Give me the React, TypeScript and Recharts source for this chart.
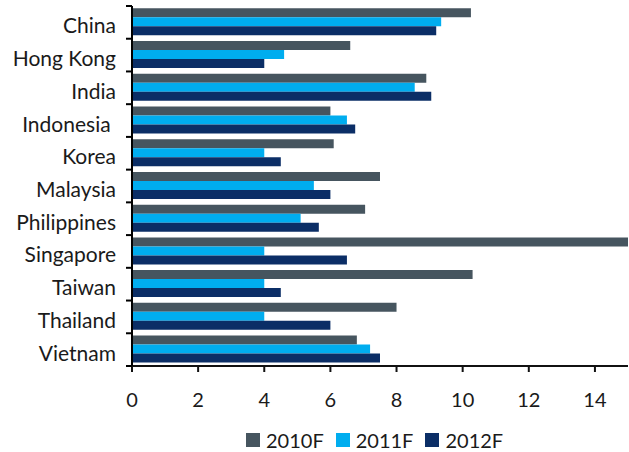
import { Bar, BarChart, Legend, XAxis, YAxis } from "recharts";

// Country groups, top to bottom
const countries = [
  "China",
  "Hong Kong",
  "India",
  "Indonesia ",
  "Korea",
  "Malaysia",
  "Philippines",
  "Singapore",
  "Taiwan",
  "Thailand",
  "Vietnam",
];

const values2010F = [10.25, 6.6, 8.9, 6.0, 6.1, 7.5, 7.05, 15.0, 10.3, 8.0, 6.8];
const values2011F = [9.35, 4.6, 8.55, 6.5, 4.0, 5.5, 5.1, 4.0, 4.0, 4.0, 7.2];
const values2012F = [9.2, 4.0, 9.05, 6.75, 4.5, 6.0, 5.65, 6.5, 4.5, 6.0, 7.5];

const xTicks = [0, 2, 4, 6, 8, 10, 12, 14];

const SERIES = [
  { key: "2010F", color: "#46555f" },
  { key: "2011F", color: "#00adef" },
  { key: "2012F", color: "#0b2e66" },
];

const FONT = "Lato, 'Open Sans', sans-serif";

const data = countries.map((name, i) => ({
  name,
  "2010F": values2010F[i],
  "2011F": values2011F[i],
  "2012F": values2012F[i],
}));

// Category label plus a short tick on the band boundary above it
// (and below it, for the last band).
function CountryTick(props: any) {
  const { x, y, payload, index, visibleTicksCount } = props;
  const half = payload?.offset ?? 16.36;
  const last = index === (visibleTicksCount ?? countries.length) - 1;
  return (
    <g>
      <line x1={x - 6} x2={x} y1={y - half} y2={y - half} stroke="#000" strokeWidth={2} />
      {last && (
        <line x1={x - 6} x2={x} y1={y + half} y2={y + half} stroke="#000" strokeWidth={2} />
      )}
      <text
        x={x - 16}
        y={y + 11}
        textAnchor="end"
        fill="#1a1a1a"
        fontSize={21}
        fontFamily={FONT}
        style={{ whiteSpace: "pre" }}
      >
        {payload.value}
      </text>
    </g>
  );
}

function SeriesLegend() {
  return (
    <div
      style={{
        display: "flex",
        alignItems: "center",
        paddingLeft: 246,
        height: 24,
        fontFamily: FONT,
        fontSize: 20,
        color: "#1a1a1a",
      }}
    >
      {SERIES.map((s) => (
        <div key={s.key} style={{ display: "flex", alignItems: "center", marginRight: 12 }}>
          <span
            style={{
              display: "inline-block",
              width: 14,
              height: 14,
              background: s.color,
              marginRight: 6,
            }}
          />
          <span style={{ lineHeight: "20px" }}>{s.key}</span>
        </div>
      ))}
    </div>
  );
}

export default function App() {
  return (
    <div style={{ position: "absolute", left: 0, top: 0, width: 629, height: 452, background: "#fff" }}>
      <BarChart
        width={629}
        height={452}
        data={data}
        layout="vertical"
        margin={{ top: 6, right: 1, bottom: 0, left: 0 }}
        barGap={0}
        barCategoryGap="7%"
      >
        <XAxis
          type="number"
          domain={[0, 15]}
          ticks={xTicks}
          allowDataOverflow
          height={62}
          tickSize={6}
          tickMargin={21}
          axisLine={{ stroke: "#111", strokeWidth: 2 }}
          tickLine={{ stroke: "#111", strokeWidth: 2 }}
          tick={{ fill: "#1a1a1a", fontSize: 20, fontFamily: FONT }}
        />
        <YAxis
          type="category"
          dataKey="name"
          width={132}
          tickSize={0}
          tickMargin={0}
          tickLine={false}
          interval={0}
          axisLine={{ stroke: "#000", strokeWidth: 2 }}
          tick={<CountryTick />}
        />
        <Legend
          verticalAlign="bottom"
          height={24}
          content={<SeriesLegend />}
          wrapperStyle={{ left: 0, width: 629 }}
        />
        {SERIES.map((s) => (
          <Bar key={s.key} dataKey={s.key} fill={s.color} isAnimationActive={false} />
        ))}
      </BarChart>
    </div>
  );
}
